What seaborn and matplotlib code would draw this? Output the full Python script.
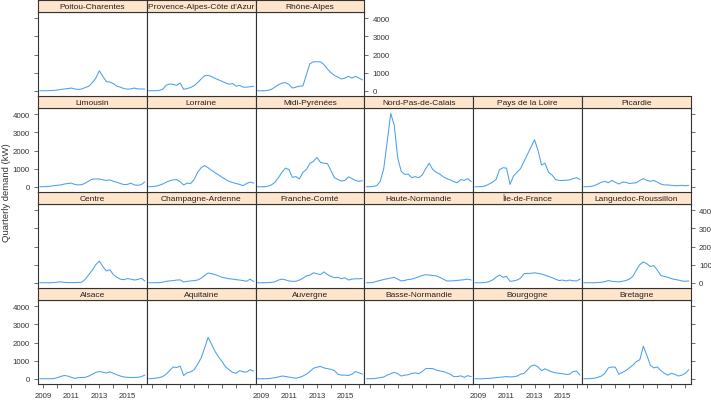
import matplotlib
matplotlib.use("Agg")
import matplotlib.pyplot as plt
import numpy as np
import pandas as pd
import seaborn as sns

sns.set_style("white")
plt.rcParams["font.family"] = ["Liberation Sans", "DejaVu Sans"]

# quarterly time axis
quarter_labels = ["2008 Q4",
                  "2009 Q1", "2009 Q2", "2009 Q3", "2009 Q4",
                  "2010 Q1", "2010 Q2", "2010 Q3", "2010 Q4",
                  "2011 Q1", "2011 Q2", "2011 Q3", "2011 Q4",
                  "2012 Q1", "2012 Q2", "2012 Q3", "2012 Q4",
                  "2013 Q1", "2013 Q2", "2013 Q3", "2013 Q4",
                  "2014 Q1", "2014 Q2", "2014 Q3", "2014 Q4",
                  "2015 Q1", "2015 Q2", "2015 Q3", "2015 Q4",
                  "2016 Q1", "2016 Q2"]

# quarterly demand (kW) per region
alsace = [0, 0, 0, 0, 10, 60, 130, 180, 150, 80, 20, 60, 70, 80, 150, 250, 350, 400, 360, 320, 380, 300, 220, 150, 100, 80, 70, 70, 80, 120, 200]
aquitaine = [0, 10, 30, 60, 120, 250, 450, 650, 620, 700, 180, 330, 380, 500, 800, 1150, 1700, 2290, 1900, 1500, 1200, 950, 650, 500, 350, 300, 450, 380, 370, 500, 420]
auvergne = [0, 0, 0, 10, 30, 60, 100, 150, 130, 90, 60, 30, 80, 150, 250, 400, 580, 640, 680, 600, 560, 520, 450, 250, 200, 200, 180, 250, 400, 330, 250]
basse_normandie = [0, 0, 10, 30, 60, 100, 200, 280, 350, 280, 150, 200, 220, 300, 320, 280, 400, 560, 570, 560, 480, 430, 400, 330, 250, 120, 120, 160, 80, 170, 120]
bourgogne = [0, 0, 0, 10, 20, 40, 60, 80, 100, 120, 100, 110, 150, 250, 300, 500, 700, 760, 650, 450, 550, 450, 380, 330, 300, 280, 240, 250, 400, 420, 200]
bretagne = [0, 0, 10, 30, 80, 150, 300, 600, 650, 640, 250, 350, 450, 600, 750, 950, 1050, 1800, 1300, 750, 600, 650, 450, 300, 200, 300, 250, 150, 200, 300, 500]
centre = [0, 0, 0, 0, 10, 30, 50, 20, 10, 10, 10, 20, 30, 200, 450, 700, 1000, 1200, 900, 650, 720, 450, 300, 200, 170, 230, 200, 150, 180, 250, 100]
champagne = [0, 0, 0, 10, 30, 80, 100, 120, 150, 160, 40, 80, 100, 120, 150, 250, 400, 540, 500, 450, 380, 300, 260, 220, 200, 170, 150, 120, 80, 200, 60]
franche_comte = [0, 0, 0, 10, 20, 50, 150, 200, 160, 100, 80, 80, 150, 250, 380, 420, 550, 500, 450, 600, 450, 350, 280, 300, 220, 280, 150, 200, 220, 220, 230]
haute_normandie = [0, 0, 20, 80, 130, 180, 220, 260, 300, 200, 100, 130, 180, 200, 260, 330, 400, 450, 420, 400, 380, 300, 200, 100, 100, 110, 130, 150, 170, 200, 150]
ile_de_france = [0, 0, 0, 20, 60, 150, 300, 430, 300, 350, 80, 100, 150, 250, 500, 520, 520, 550, 520, 480, 420, 350, 280, 200, 120, 150, 100, 150, 110, 100, 200]
languedoc = [0, 0, 0, 0, 10, 30, 60, 120, 80, 60, 50, 80, 120, 200, 350, 700, 1000, 1150, 1050, 900, 950, 700, 400, 350, 300, 230, 180, 150, 100, 80, 100]
limousin = [0, 0, 10, 30, 60, 80, 100, 150, 180, 200, 130, 100, 120, 200, 320, 420, 430, 430, 380, 350, 380, 300, 250, 180, 120, 130, 200, 100, 80, 120, 270]
lorraine = [0, 10, 30, 80, 150, 250, 330, 380, 400, 280, 100, 200, 180, 400, 800, 1050, 1170, 1050, 900, 780, 650, 520, 400, 300, 230, 180, 130, 60, 180, 260, 200]
midi_pyrenees = [0, 0, 0, 30, 100, 250, 500, 800, 1030, 950, 520, 560, 430, 800, 950, 1300, 1400, 1620, 1350, 1300, 1280, 900, 500, 400, 320, 350, 550, 450, 350, 300, 330]
nord = [0, 0, 20, 60, 300, 1000, 2500, 4050, 3400, 1600, 850, 680, 700, 500, 560, 500, 650, 1000, 1300, 950, 800, 700, 550, 450, 380, 280, 220, 400, 350, 450, 280]
pays_de_la_loire = [0, 0, 10, 50, 150, 250, 400, 950, 1050, 1030, 130, 600, 800, 1000, 1400, 1800, 2200, 2600, 2000, 1200, 1300, 800, 650, 400, 350, 350, 360, 380, 450, 500, 400]
picardie = [0, 0, 20, 60, 150, 250, 300, 220, 350, 250, 150, 250, 250, 180, 200, 220, 350, 450, 350, 300, 350, 250, 150, 100, 100, 80, 60, 60, 80, 50, 80]
poitou = [0, 0, 0, 10, 20, 40, 70, 100, 120, 150, 100, 70, 100, 180, 250, 450, 700, 1100, 800, 500, 480, 400, 250, 200, 120, 90, 100, 150, 100, 100, 90]
paca = [0, 0, 0, 20, 80, 300, 380, 350, 300, 430, 80, 120, 180, 280, 450, 650, 830, 850, 780, 680, 600, 520, 430, 360, 400, 250, 300, 200, 200, 220, 250]
rhone_alpes = [0, 0, 0, 20, 80, 200, 330, 420, 450, 350, 150, 200, 250, 270, 900, 1500, 1600, 1600, 1600, 1450, 1200, 1000, 850, 750, 650, 700, 800, 700, 800, 700, 600]

regions = ["Alsace", "Aquitaine", "Auvergne", "Basse-Normandie", "Bourgogne", "Bretagne",
           "Centre", "Champagne-Ardenne", "Franche-Comté", "Haute-Normandie", "Île-de-France", "Languedoc-Roussillon",
           "Limousin", "Lorraine", "Midi-Pyrénées", "Nord-Pas-de-Calais", "Pays de la Loire", "Picardie",
           "Poitou-Charentes", "Provence-Alpes-Côte d'Azur", "Rhône-Alpes"]
series = [alsace, aquitaine, auvergne, basse_normandie, bourgogne, bretagne,
          centre, champagne, franche_comte, haute_normandie, ile_de_france, languedoc,
          limousin, lorraine, midi_pyrenees, nord, pays_de_la_loire, picardie,
          poitou, paca, rhone_alpes]

t = [int(q[:4]) + (int(q[-1]) - 1) / 4 for q in quarter_labels]
df = pd.concat([pd.DataFrame({"region": r, "t": t, "demand": v})
                for r, v in zip(regions, series)], ignore_index=True)

W, H = 711, 402
fig = plt.figure(figsize=(W / 100, H / 100), dpi=100)

col_w, strip_h, panel_h = 108.8, 11.5, 84.5
x0, y0, row_step = 38, 1, 96
line_col = "#4a9ff0"
edge = "#333333"
tick_col = "#555555"
years = list(range(2009, 2017))
year_lbls = [str(y) if y % 2 == 1 else "" for y in years]

def fig_rect(x, top, w, h):
    return [x / W, 1 - (top + h) / H, w / W, h / H]

for k, reg in enumerate(regions):
    col = k % 6
    row = 3 - k // 6          # row from top, lattice fills bottom-up
    n_in_row = min(6, len(regions) - (k // 6) * 6)
    last_col = col == n_in_row - 1
    left = x0 + col * col_w
    top = y0 + row * row_step

    ax = fig.add_axes(fig_rect(left, top + strip_h, col_w, panel_h))
    sns.lineplot(data=df[df.region == reg], x="t", y="demand", ax=ax,
                 color=line_col, linewidth=0.75)
    ax.set_xlim(2008.62, 2016.39)
    ax.set_ylim(-290, 4380)
    ax.set_xlabel("")
    ax.set_ylabel("")
    ax.set_xticks(years)
    ax.set_xticklabels(year_lbls)
    ax.set_yticks([0, 1000, 2000, 3000, 4000])
    for s in ax.spines.values():
        s.set_color(edge)
        s.set_linewidth(0.8)
    ax.tick_params(direction="out", length=3, width=0.6, colors=tick_col,
                   labelcolor="#333333", labelsize=5.7, pad=3,
                   left=col == 0, labelleft=(col == 0 and row in (1, 3)),
                   right=last_col, labelright=(last_col and row in (0, 2)),
                   bottom=row == 3, labelbottom=(row == 3 and col % 2 == 0),
                   top=False, labeltop=False)

    sax = fig.add_axes(fig_rect(left, top, col_w, strip_h))
    sax.set_facecolor("#ffe5cc")
    sax.set_xlim(2008.62, 2016.39)
    sax.set_yticks([])
    sax.set_xticks(years)
    sax.tick_params(axis="x", direction="out", length=3, width=0.6, colors=tick_col,
                    bottom=False, labelbottom=False, top=row == 0, labeltop=False)
    for s in sax.spines.values():
        s.set_color(edge)
        s.set_linewidth(0.8)
    sax.text(0.5, 0.45, reg, transform=sax.transAxes, ha="center", va="center",
             fontsize=6.0, color="#222222")

fig.text(7 / W, 1 - 193 / H, "Quarterly demand (kW)", rotation=90,
         ha="center", va="center", fontsize=6.8, color="#333333")

fig.savefig("out.png", dpi=100)
